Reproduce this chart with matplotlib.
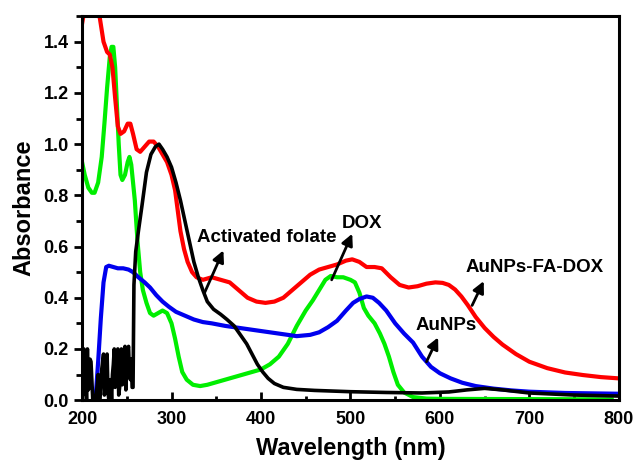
import matplotlib
matplotlib.use("Agg")
import matplotlib.pyplot as plt
from matplotlib.ticker import MultipleLocator

plt.rcParams['font.family'] = ['Liberation Sans', 'DejaVu Sans']
plt.rcParams['font.weight'] = 'bold'

# AuNPs-FA-DOX (red)
red_wl = [200, 203, 216, 220, 224, 228, 231, 234, 237, 240, 243, 247, 251, 254, 257, 261, 265,
          270, 275, 280, 285, 290, 295, 300, 304, 307, 310, 314, 318, 323, 328, 335, 345, 355,
          365, 375, 385, 395, 405, 415, 425, 435, 445, 455, 465, 475, 485, 495, 502, 510, 518,
          527, 535, 545, 555, 565, 575, 585, 595, 603, 610, 617, 624, 631, 640, 650, 660, 670,
          685, 700, 720, 740, 760, 780, 800]
red_abs = [1.47, 1.53, 1.56, 1.49, 1.40, 1.36, 1.35, 1.30, 1.18, 1.07, 1.04, 1.05, 1.08, 1.08,
           1.04, 0.98, 0.97, 0.99, 1.01, 1.01, 0.99, 0.96, 0.93, 0.88, 0.82, 0.74, 0.66, 0.59,
           0.54, 0.50, 0.48, 0.47, 0.48, 0.47, 0.46, 0.43, 0.40, 0.385, 0.38, 0.385, 0.40, 0.43,
           0.46, 0.49, 0.51, 0.52, 0.53, 0.545, 0.55, 0.54, 0.52, 0.52, 0.515, 0.48, 0.45, 0.44,
           0.445, 0.455, 0.46, 0.458, 0.45, 0.432, 0.405, 0.372, 0.325, 0.282, 0.247, 0.217,
           0.18, 0.15, 0.125, 0.108, 0.098, 0.09, 0.085]

# Activated folate (black)
blk_wl = [200, 201, 202, 203, 204, 205, 206, 207, 208, 209, 210, 212, 215, 217, 218, 219, 220,
          222, 224, 225, 226, 227, 228, 229, 230, 231, 232, 233, 234, 235, 236, 237, 238, 239,
          240, 241, 242, 243, 244, 245, 246, 247, 248, 249, 250, 251, 252, 253, 254, 255, 256,
          257, 258, 260, 263, 267, 272, 277, 282, 286, 290, 295, 300, 305, 310, 315, 320, 325,
          330, 335, 340, 347, 355, 362, 370, 377, 384, 390, 396, 402, 408, 415, 425, 440, 460,
          500, 540, 580, 610, 630, 650, 670, 700, 750, 800]
blk_abs = [0.15, 0.02, 0.20, 0.08, 0.12, 0.0, 0.20, 0.04, 0.05, 0.16, 0.15, 0.0, 0.0, 0.06, 0.10,
           0.0, 0.0, 0.12, 0.18, 0.02, 0.05, 0.12, 0.18, 0.03, 0.0, 0.06, 0.08, 0.0, 0.10, 0.14,
           0.20, 0.05, 0.12, 0.18, 0.20, 0.02, 0.05, 0.15, 0.20, 0.06, 0.10, 0.17, 0.21, 0.04,
           0.15, 0.20, 0.21, 0.10, 0.08, 0.16, 0.05, 0.05, 0.45, 0.58, 0.66, 0.76, 0.89, 0.96,
           0.99, 1.0, 0.98, 0.95, 0.91, 0.85, 0.78, 0.70, 0.62, 0.54, 0.48, 0.43, 0.385, 0.355,
           0.335, 0.315, 0.29, 0.255, 0.22, 0.18, 0.14, 0.11, 0.085, 0.065, 0.05, 0.042, 0.038,
           0.033, 0.03, 0.028, 0.032, 0.04, 0.046, 0.04, 0.028, 0.02, 0.016]

# DOX (green)
grn_wl = [200, 203, 207, 211, 214, 218, 222, 225, 228, 231, 233, 235, 237, 239, 241, 243, 245,
          248, 251, 253, 255, 257, 259, 262, 265, 268, 272, 276, 280, 285, 290, 295, 300, 304,
          308, 312, 317, 324, 332, 340, 350, 360, 370, 380, 390, 400, 410, 420, 430, 440, 450,
          458, 465, 472, 478, 485, 492, 500, 505, 510, 515, 520, 527, 533, 538, 543, 548, 553,
          560, 570, 585, 600, 700, 792]
grn_abs = [0.93, 0.88, 0.83, 0.81, 0.81, 0.85, 0.95, 1.08, 1.22, 1.34, 1.38, 1.38, 1.30, 1.15,
           1.00, 0.88, 0.86, 0.88, 0.93, 0.95, 0.92, 0.85, 0.78, 0.62, 0.50, 0.43, 0.38, 0.34,
           0.33, 0.34, 0.35, 0.34, 0.30, 0.24, 0.17, 0.11, 0.08, 0.06, 0.055, 0.06, 0.07, 0.08,
           0.09, 0.10, 0.11, 0.12, 0.14, 0.17, 0.22, 0.29, 0.35, 0.39, 0.43, 0.47, 0.485, 0.48,
           0.48, 0.47, 0.46, 0.42, 0.36, 0.33, 0.30, 0.26, 0.22, 0.17, 0.11, 0.06, 0.03, 0.012,
           0.006, 0.005, 0.004, 0.003]

# AuNPs (blue)
blu_wl = [215, 218, 221, 224, 227, 230, 235, 240, 246, 252, 257, 263, 270, 276, 283, 290, 297,
          305, 315, 325, 335, 345, 360, 380, 400, 420, 440, 455, 465, 475, 485, 495, 503, 510,
          518, 525, 532, 540, 550, 560, 570, 580, 590, 600, 612, 625, 640, 660, 680, 700, 740,
          800]
blu_abs = [0.0, 0.15, 0.32, 0.46, 0.52, 0.525, 0.52, 0.515, 0.515, 0.51, 0.50, 0.48, 0.46, 0.44,
           0.41, 0.385, 0.365, 0.345, 0.33, 0.315, 0.305, 0.30, 0.29, 0.28, 0.27, 0.26, 0.25,
           0.255, 0.265, 0.285, 0.31, 0.35, 0.38, 0.395, 0.405, 0.40, 0.38, 0.35, 0.30, 0.26,
           0.225, 0.17, 0.13, 0.105, 0.085, 0.068, 0.055, 0.045, 0.038, 0.033, 0.028, 0.025]

# labels: (text, text position, arrow tail on curve, arrow head)
labels = [
    ("Activated folate", (406, 0.635), (337, 0.42), (358, 0.585)),
    ("DOX", (513, 0.69), (479, 0.47), (502, 0.65)),
    ("AuNPs-FA-DOX", (706, 0.52), (636, 0.37), (649, 0.465)),
    ("AuNPs", (607, 0.29), (585, 0.15), (598, 0.245)),
]

fig = plt.figure(figsize=(6.36, 4.61), dpi=100)
ax = fig.add_axes([0.129, 0.132, 0.844, 0.833])

ax.plot(grn_wl, grn_abs, color='#00ee00', lw=3.0, solid_joinstyle='round')
ax.plot(blu_wl, blu_abs, color='#0000ee', lw=3.0, solid_joinstyle='round')
ax.plot(red_wl, red_abs, color='#ff0000', lw=3.0, solid_joinstyle='round')
ax.plot(blk_wl, blk_abs, color='black', lw=2.6, solid_joinstyle='round')

for text, tpos, tail, head in labels:
    ax.annotate("", xy=head, xytext=tail,
                arrowprops=dict(arrowstyle='-|>', color='black', lw=2.0,
                                mutation_scale=17, shrinkA=0, shrinkB=0))
    ax.text(tpos[0], tpos[1], text, ha='center', va='center', fontsize=13.5, fontweight='bold')

ax.set_xlim(200, 800)
ax.set_ylim(0, 1.5)
ax.xaxis.set_major_locator(MultipleLocator(100))
ax.xaxis.set_minor_locator(MultipleLocator(50))
ax.yaxis.set_major_locator(MultipleLocator(0.2))
ax.yaxis.set_minor_locator(MultipleLocator(0.1))
ax.yaxis.set_major_formatter(plt.FormatStrFormatter('%.1f'))

ax.tick_params(axis='x', which='both', direction='in', labelsize=13, pad=8)
ax.tick_params(axis='x', which='major', length=6, width=2)
ax.tick_params(axis='x', which='minor', length=3, width=2)
ax.tick_params(axis='y', which='both', direction='out', labelsize=13)
ax.tick_params(axis='y', which='major', length=6, width=2)
ax.tick_params(axis='y', which='minor', length=4, width=2)
for s in ax.spines.values():
    s.set_linewidth(2.2)

ax.set_xlabel("Wavelength (nm)", fontsize=17, fontweight='bold', labelpad=6)
ax.set_ylabel("Absorbance", fontsize=17, fontweight='bold', labelpad=6)

fig.savefig("out.png", dpi=100)
